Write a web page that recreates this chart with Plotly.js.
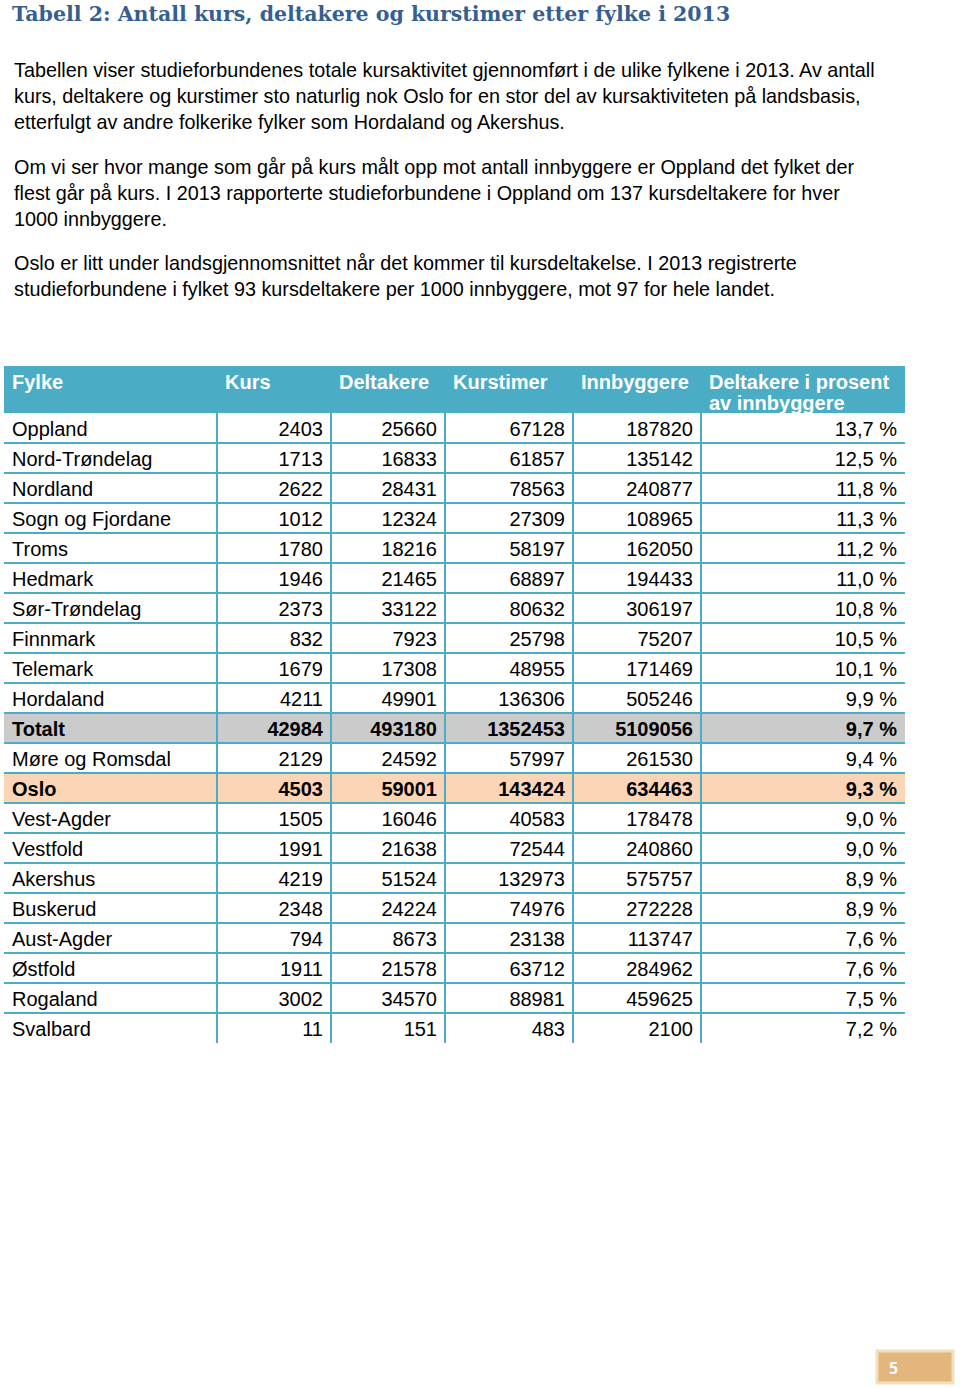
<!DOCTYPE html>
<html>
<head>
<meta charset="utf-8">
<script src="https://cdn.plot.ly/plotly-3.0.1.min.js"></script>
<style>html,body{margin:0;padding:0;background:#fff;}#chart{width:960px;height:1388px;}</style>
</head>
<body>
<div id="chart"></div>
<script>
// ---------- data ----------
var titleText = "Tabell 2: Antall kurs, deltakere og kurstimer etter fylke i 2013";
var paragraphs = [
  ["Tabellen viser studieforbundenes totale kursaktivitet gjennomført i de ulike fylkene i 2013. Av antall",
   "kurs, deltakere og kurstimer sto naturlig nok Oslo for en stor del av kursaktiviteten på landsbasis,",
   "etterfulgt av andre folkerike fylker som Hordaland og Akershus."],
  ["Om vi ser hvor mange som går på kurs målt opp mot antall innbyggere er Oppland det fylket der",
   "flest går på kurs. I 2013 rapporterte studieforbundene i Oppland om 137 kursdeltakere for hver",
   "1000 innbyggere."],
  ["Oslo er litt under landsgjennomsnittet når det kommer til kursdeltakelse. I 2013 registrerte",
   "studieforbundene i fylket 93 kursdeltakere per 1000 innbyggere, mot 97 for hele landet."]
];
var headers = ["Fylke", "Kurs", "Deltakere", "Kurstimer", "Innbyggere", "Deltakere i prosent"];
var headerSecondLine = "av innbyggere";
var fylke = ["Oppland","Nord-Trøndelag","Nordland","Sogn og Fjordane","Troms","Hedmark","Sør-Trøndelag","Finnmark","Telemark","Hordaland","Totalt","Møre og Romsdal","Oslo","Vest-Agder","Vestfold","Akershus","Buskerud","Aust-Agder","Østfold","Rogaland","Svalbard"];
var kurs = [2403,1713,2622,1012,1780,1946,2373,832,1679,4211,42984,2129,4503,1505,1991,4219,2348,794,1911,3002,11];
var deltakere = [25660,16833,28431,12324,18216,21465,33122,7923,17308,49901,493180,24592,59001,16046,21638,51524,24224,8673,21578,34570,151];
var kurstimer = [67128,61857,78563,27309,58197,68897,80632,25798,48955,136306,1352453,57997,143424,40583,72544,132973,74976,23138,63712,88981,483];
var innbyggere = [187820,135142,240877,108965,162050,194433,306197,75207,171469,505246,5109056,261530,634463,178478,240860,575757,272228,113747,284962,459625,2100];
var prosent = [13.7,12.5,11.8,11.3,11.2,11.0,10.8,10.5,10.1,9.9,9.7,9.4,9.3,9.0,9.0,8.9,8.9,7.6,7.6,7.5,7.2];
var highlightRows = {"Totalt": "#cbcbcb", "Oslo": "#fbd5b5"};
var pageNumber = "5";

// ---------- layout constants (pixels) ----------
var W = 960, H = 1388;
var tableLeft = 4, tableTop = 366, headerH = 47, rowH = 30;
var colW = [213, 114, 114, 128, 128, 204];
var lineColor = "#4bacc6";
var sansFamily = "Liberation Sans, Arial, sans-serif";
function px(x){ return x / W; }
function py(y){ return 1 - y / H; }

var nRows = fylke.length;
var rowWeight = fylke.map(function(f){ return highlightRows[f] !== undefined ? "bold" : "normal"; });
function fmtPct(v){ return v.toFixed(1).replace(".", ",") + " %"; }

var cellValues = [
  fylke, kurs.map(String), deltakere.map(String), kurstimer.map(String), innbyggere.map(String), prosent.map(fmtPct)
];
var rowFill = fylke.map(function(f){ return highlightRows[f] || "#ffffff"; });
var fillColors = colW.map(function(){ return rowFill; });
var weights = colW.map(function(){ return rowWeight; });

var tableW = colW.reduce(function(a,b){return a+b;}, 0);
var tableBottom = tableTop + headerH + nRows * rowH;

var trace = {
  type: "table",
  domain: { x: [px(tableLeft), px(tableLeft + tableW)], y: [py(tableBottom + 6), py(tableTop)] },
  columnwidth: colW,
  header: {
    values: headers,
    align: "left",
    height: headerH,
    fill: { color: lineColor },
    line: { color: lineColor, width: 0 },
    font: { family: sansFamily, size: 20, color: "#ffffff", weight: "bold" }
  },
  cells: {
    values: cellValues,
    align: ["left", "right", "right", "right", "right", "right"],
    height: rowH,
    fill: { color: fillColors },
    line: { color: "rgba(0,0,0,0)", width: 0 },
    font: { family: sansFamily, size: 20, color: "#000000", weight: weights }
  }
};

// grid lines computed from the table geometry
var shapes = [];
for (var k = 1; k < nRows; k++) {
  var yy = tableTop + headerH + k * rowH;
  shapes.push({ type: "line", xref: "paper", yref: "paper", x0: px(tableLeft), x1: px(tableLeft + tableW), y0: py(yy), y1: py(yy), line: { color: lineColor, width: 2 } });
}
var xAcc = tableLeft;
var colStarts = [];
for (var c = 0; c < colW.length; c++) {
  colStarts.push(xAcc);
  xAcc += colW[c];
  if (c < colW.length - 1) {
    shapes.push({ type: "line", xref: "paper", yref: "paper", x0: px(xAcc), x1: px(xAcc), y0: py(tableTop + headerH), y1: py(tableBottom), line: { color: lineColor, width: 2 } });
  }
}
// page number box
shapes.push({ type: "rect", xref: "paper", yref: "paper", x0: px(877), x1: px(953), y0: py(1383), y1: py(1351), fillcolor: "#e2b67c", line: { color: "#f2dfbe", width: 3 } });

var annotations = [];
// second header line of last column
annotations.push({
  xref: "paper", yref: "paper", x: px(colStarts[colW.length - 1] + 6), y: py(tableTop + 37),
  xanchor: "left", yanchor: "middle", showarrow: false, text: headerSecondLine,
  font: { family: sansFamily, size: 20, color: "#ffffff", weight: "bold" }
});
// paragraph annotations
var paraStarts = [70, 167, 263], lineGap = 26;
paragraphs.forEach(function(p, pi){
  p.forEach(function(line, li){
    annotations.push({
      xref: "paper", yref: "paper", x: px(12), y: py(paraStarts[pi] + li * lineGap),
      xanchor: "left", yanchor: "middle", showarrow: false, text: line,
      font: { family: sansFamily, size: 19.8, color: "#000000" }
    });
  });
});
annotations.push({
  xref: "paper", yref: "paper", x: px(893), y: py(1368), xanchor: "center", yanchor: "middle",
  showarrow: false, text: pageNumber,
  font: { family: "Open Sans, DejaVu Sans, sans-serif", size: 16, color: "#ffffff", weight: "bold" }
});

var layout = {
  width: W, height: H,
  margin: { l: 0, r: 0, t: 0, b: 0 },
  paper_bgcolor: "#ffffff",
  title: {
    text: titleText,
    x: px(12), xanchor: "left", xref: "paper",
    y: 1 - 14 / H, yref: "container", yanchor: "middle",
    font: { family: "DejaVu Serif, serif", size: 20.5, color: "#365f91", weight: "bold" }
  },
  shapes: shapes,
  annotations: annotations
};

Plotly.newPlot("chart", [trace], layout, { displayModeBar: false, staticPlot: true });
</script>
</body>
</html>
